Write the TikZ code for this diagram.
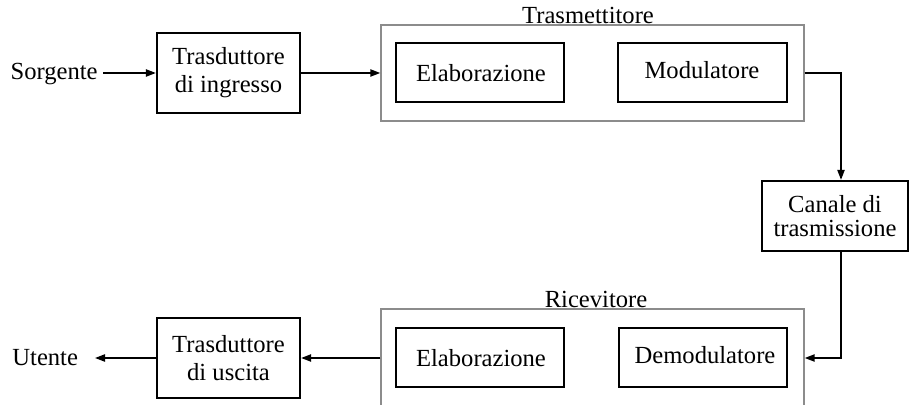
\documentclass[tikz,border=0pt]{standalone}
\usepackage{fontspec}
\setmainfont{Liberation Serif}
\usetikzlibrary{arrows.meta}
\begin{document}
\begin{tikzpicture}[x=0.5pt,y=-0.5pt,
  every node/.style={font=\fontsize{12.3}{14}\selectfont},
  blk/.style={draw=black,line width=1.1pt,rectangle,inner sep=0pt,align=center},
  grp/.style={draw=black!45,line width=0.7pt,rectangle,inner sep=0pt},
  flow/.style={draw=black,line width=0.8pt,-{Triangle[length=5pt,width=3.6pt]}},
  wire/.style={draw=black,line width=0.8pt}]
\useasboundingbox (0,0) rectangle (909,405);

% transmitter group and its blocks
\node[grp,minimum width=211.5pt,minimum height=48pt] (tx) at (592.5,73) {};
\node[anchor=base] (txlab) at (588,24) {Trasmettitore};
\node[blk,minimum width=84pt,minimum height=29.5pt] (elabT) at (480,72.5) {};
\node at (481,73) {Elaborazione};
\node[blk,minimum width=84.5pt,minimum height=29.5pt] (mod) at (702.5,72.5) {};
\node at (702,70) {Modulatore};

% receiver group and its blocks
\node[grp,minimum width=211.5pt,minimum height=49pt] (rx) at (592.5,358) {};
\node[anchor=base] (rxlab) at (596,307) {Ricevitore};
\node[blk,minimum width=84pt,minimum height=29.5pt] (elabR) at (480,357.5) {};
\node at (481,358) {Elaborazione};
\node[blk,minimum width=84pt,minimum height=29.5pt] (demod) at (703,357.5) {};
\node at (705,355) {Demodulatore};

% transducers and channel
\node[blk,minimum width=71.5pt,minimum height=40pt] (tin) at (228.5,73) {Trasduttore\\di ingresso};
\node[blk,minimum width=71.5pt,minimum height=40pt] (tout) at (228.5,358) {Trasduttore\\di uscita};
\node[blk,minimum width=73pt,minimum height=35pt,
      font=\fontsize{12.3}{12}\selectfont] (chan) at (835,216) {Canale di\\trasmissione};

% source and user
\node[anchor=base east,inner sep=0pt] (src) at (98,80) {Sorgente};
\node[anchor=base west,inner sep=0pt] (usr) at (12,365) {Utente};

% signal path
\coordinate (c1) at (841,73);
\coordinate (c2) at (841,358);
\coordinate (uend) at (95,358);
\draw[flow] ([xshift=2.5pt]src.east |- tin.west) -- (tin.west);
\draw[flow] (tin.east) -- (tx.west);
\draw[flow] (tx.east) -- (c1) -- (c1 |- chan.north);
\draw[flow] (c1 |- chan.south) -- (c2) -- (rx.east);
\draw[flow] (rx.west) -- (tout.east);
\draw[flow] (tout.west) -- (uend);
\end{tikzpicture}
\end{document}
